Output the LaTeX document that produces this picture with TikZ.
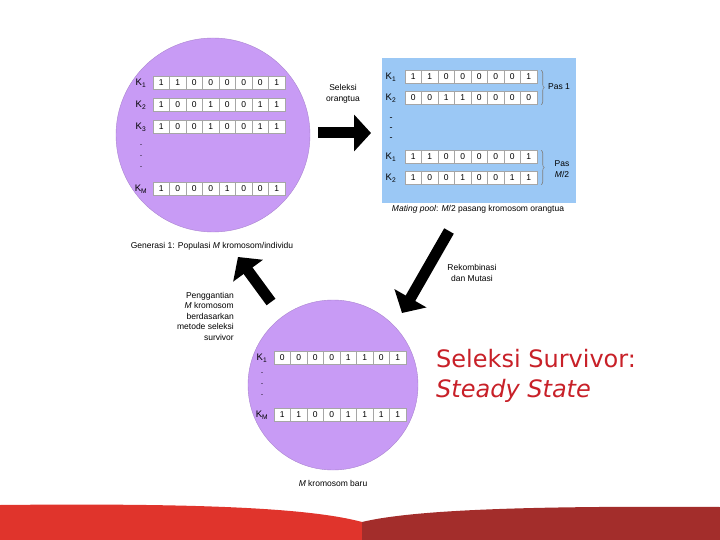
\documentclass[tikz,border=0pt]{standalone}
\usepackage{fontspec}
\setmainfont{Liberation Sans}
\newfontfamily\slidefont{DejaVu Sans}
\usetikzlibrary{arrows.meta,decorations.pathreplacing}

\definecolor{lilac}{RGB}{200,155,245}
\definecolor{poolblue}{RGB}{155,200,245}
\definecolor{bandred}{RGB}{224,52,44}
\definecolor{banddark}{RGB}{163,45,43}
\definecolor{titlered}{RGB}{200,32,40}

\tikzset{
  popcircle/.style={circle, fill=lilac, draw=lilac!85!black, inner sep=0pt},
  bit/.style={draw=gray!70, fill=white, minimum width=16.5pt, minimum height=13pt,
    inner sep=0pt, font=\fontsize{8.5}{8.5}\selectfont},
  klabel/.style={font=\fontsize{9.5}{9.5}\selectfont, inner sep=0pt},
  caption/.style={font=\fontsize{8.5}{10.5}\selectfont, align=center, inner sep=0pt},
  vdot/.style={font=\fontsize{9}{9}\selectfont, inner sep=0pt},
  blockarrow/.style={line width=11pt, -{Triangle[length=17pt,width=36pt]}},
  pairbrace/.style={draw=gray, line width=0.6pt, decorate, decoration={brace, amplitude=3pt}},
  titletext/.style={anchor=base west, inner sep=0pt, text=titlered,
    font=\slidefont\fontsize{24}{28}\selectfont},
}

\begin{document}
\begin{tikzpicture}[x=1pt, y=-1pt]
\useasboundingbox[fill=white] (0,0) rectangle (720,540);

% populasi awal
\node[popcircle, minimum size=194pt] (gen) at (213,135) {};
\node[klabel] (gK1) at (141,83) {K\textsubscript{1}};
\foreach \b [count=\i] in {1,1,0,0,0,0,0,1}
  \node[bit] (gA\i) at (144.75+16.5*\i, 83) {\b};
\node[klabel] (gK2) at (141,105) {K\textsubscript{2}};
\foreach \b [count=\i] in {1,0,0,1,0,0,1,1}
  \node[bit] (gB\i) at (144.75+16.5*\i, 105) {\b};
\node[klabel] (gK3) at (141,127) {K\textsubscript{3}};
\foreach \b [count=\i] in {1,0,0,1,0,0,1,1}
  \node[bit] (gC\i) at (144.75+16.5*\i, 127) {\b};
\node[vdot] (gd1) at (141,145) {.};
\node[vdot] (gd2) at (141,156) {.};
\node[vdot] (gd3) at (141,167) {.};
\node[klabel] (gKM) at (141,189) {K\textsubscript{M}};
\foreach \b [count=\i] in {1,0,0,0,1,0,0,1}
  \node[bit] (gD\i) at (144.75+16.5*\i, 189) {\b};
\node[caption] (genlab) at (212,246) {Generasi 1: Populasi \textit{M} kromosom/individu};

% mating pool
\node[fill=poolblue, minimum width=194pt, minimum height=145pt, inner sep=0pt] (pool) at (479,130.5) {};
\node[klabel] (pK1) at (391,77) {K\textsubscript{1}};
\foreach \b [count=\i] in {1,1,0,0,0,0,0,1}
  \node[bit] (pA\i) at (396.75+16.5*\i, 77) {\b};
\node[klabel] (pK2) at (391,98) {K\textsubscript{2}};
\foreach \b [count=\i] in {0,0,1,1,0,0,0,0}
  \node[bit] (pB\i) at (396.75+16.5*\i, 98) {\b};
\node[vdot] (pd1) at (391,119) {-};
\node[vdot] (pd2) at (391,129) {-};
\node[vdot] (pd3) at (391,139) {-};
\node[klabel] (pK3) at (391,157) {K\textsubscript{1}};
\foreach \b [count=\i] in {1,1,0,0,0,0,0,1}
  \node[bit] (pC\i) at (396.75+16.5*\i, 157) {\b};
\node[klabel] (pK4) at (391,178) {K\textsubscript{2}};
\foreach \b [count=\i] in {1,0,0,1,0,0,1,1}
  \node[bit] (pD\i) at (396.75+16.5*\i, 178) {\b};
\draw[pairbrace] ([xshift=4pt]pA8.north east) -- ([xshift=4pt]pB8.south east);
\draw[pairbrace] ([xshift=4pt]pC8.north east) -- ([xshift=4pt]pD8.south east);
\node[caption] (pas1) at (559,87) {Pas 1};
\node[caption] (pasM) at (562,169) {Pas\\\textit{M}/2};
\node[caption] (poollab) at (478,209) {\textit{Mating pool}: \textit{M}/2 pasang kromosom orangtua};

% populasi baru
\node[popcircle, minimum size=170pt] (baru) at (333,385) {};
\node[klabel] (bK1) at (262,358) {K\textsubscript{1}};
\foreach \b [count=\i] in {0,0,0,0,1,1,0,1}
  \node[bit] (bA\i) at (265.75+16.5*\i, 358) {\b};
\node[vdot] (bd1) at (262,373) {.};
\node[vdot] (bd2) at (262,384) {.};
\node[vdot] (bd3) at (262,395) {.};
\node[klabel] (bKM) at (262,415) {K\textsubscript{M}};
\foreach \b [count=\i] in {1,1,0,0,1,1,1,1}
  \node[bit] (bB\i) at (265.75+16.5*\i, 415) {\b};
\node[caption] (barulab) at (333,483) {\textit{M} kromosom baru};

% panah
\coordinate (a1s) at (318,133);
\coordinate (a1e) at (371,133);
\draw[blockarrow] (a1s) -- (a1e);
\node[caption] (sellab) at (343,94) {Seleksi\\orangtua};
\coordinate (a2s) at (449,231);
\coordinate (a2e) at (402,313);
\draw[blockarrow] (a2s) -- (a2e);
\node[caption] (rekomlab) at (472,273) {Rekombinasi\\dan Mutasi};
\coordinate (a3s) at (271,302);
\coordinate (a3e) at (238,257);
\draw[blockarrow] (a3s) -- (a3e);
\node[caption, align=right, anchor=north east] (gantilab) at (234,292)
  {Penggantian\\\textit{M} kromosom\\berdasarkan\\metode seleksi\\survivor};

% judul
\node[titletext] (judul1) at (436,367) {Seleksi Survivor:};
\node[titletext] (judul2) at (436,397) {\textit{Steady State}};

% pita bawah
\fill[bandred] (0,505) .. controls (200,503) and (310,508) .. (362,522)
  -- (362,540) -- (0,540) -- cycle;
\fill[banddark] (362,522) .. controls (420,508) and (560,506) .. (720,507)
  -- (720,540) -- (362,540) -- cycle;
\end{tikzpicture}
\end{document}
